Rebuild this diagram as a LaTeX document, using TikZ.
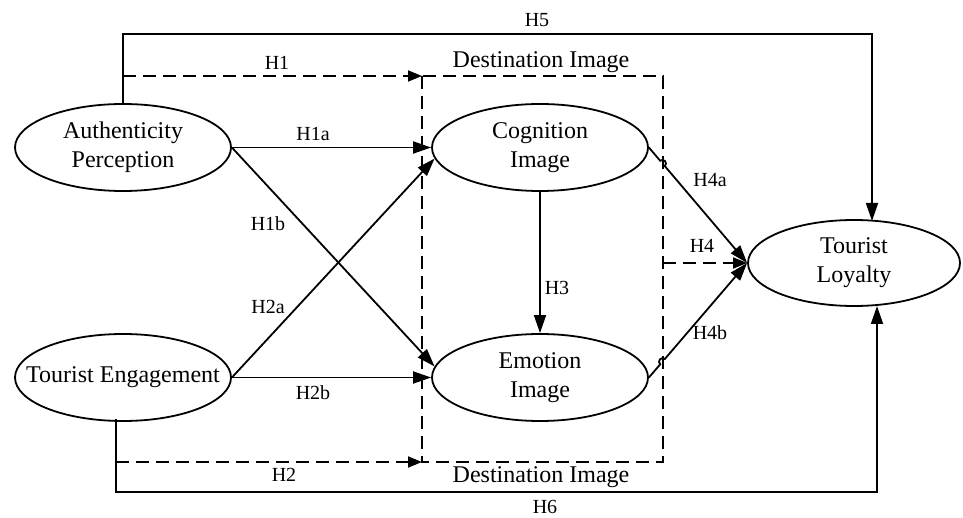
\documentclass[tikz,border=0pt]{standalone}
\usepackage{fontspec}
\setmainfont{Liberation Serif}
\usetikzlibrary{shapes.geometric,arrows.meta,calc}
\tikzset{
  ell/.style={ellipse,draw,line width=1.8pt,minimum width=216pt,minimum height=87pt,inner sep=0pt},
  etext/.style={label={[align=center,font=\fontsize{24}{29}\selectfont]center:#1}},
  conn/.style={line width=1.8pt,-{Triangle[length=18pt,width=12pt]}},
  dconn/.style={line width=1.8pt,dash pattern=on 13pt off 7pt,-{Triangle[length=14pt,width=11pt]}},
  lbl/.style={font=\fontsize{20}{24}\selectfont,inner sep=1pt},
  big/.style={font=\fontsize{24}{28}\selectfont,inner sep=1pt},
}
\begin{document}
\begin{tikzpicture}[x=1pt,y=-1pt]
\useasboundingbox (0,0) rectangle (963,518);
% dashed box
\draw[line width=1.8pt,dash pattern=on 13pt off 7pt] (422,76) rectangle (663,462);
\node[big] (dt) at (541,62) {Destination Image};
\node[big] (db) at (541,477) {Destination Image};
% nodes
\node[ell,etext={Authenticity\\Perception}] (auth) at (123,147.5) {};
\node[ell,etext={Tourist Engagement}] (te) at (123,377.5) {};
\node[ell,etext={Cognition\\Image}] (cog) at (540,147.5) {};
\node[ell,etext={Emotion\\Image}] (emo) at (540,377.5) {};
\node[ell,minimum width=212pt,minimum height=86pt,etext={Tourist\\Loyalty}] (loy) at (854,263) {};
% coordinates
\coordinate (h5a) at (123,34);
\coordinate (h5b) at (872,34);
\coordinate (h5c) at (872,221);
\coordinate (h1a) at (123,76);
\coordinate (h1b) at (422,76);
\coordinate (h2a) at (116,462);
\coordinate (h2b) at (422,462);
\coordinate (h6s) at (116,419);
\coordinate (h6a) at (116,492);
\coordinate (h6b) at (877,492);
\coordinate (h6c) at (877,306);
\coordinate (h4s) at (663,263);
% H5
\draw[conn] (auth.north) -- (h5a) -- (h5b) -- (h5c);
\node[lbl] at (537,20) {H5};
% H1
\draw[dconn] (h1a) -- (h1b);
\node[lbl] at (277,63) {H1};
% H1a
\draw[conn] (auth.east) -- (cog.west);
\node[lbl] at (313,134) {H1a};
% H1b
\draw[conn] (auth.east) -- (emo.174);
\node[lbl] at (268,224) {H1b};
% H2a
\draw[conn] (te.east) -- (cog.186);
\node[lbl] at (268,307) {H2a};
% H2b
\draw[conn] (te.east) -- (emo.west);
\node[lbl] at (313,393) {H2b};
% H2
\draw[dconn] (h2a) -- (h2b);
\node[lbl] at (284,475) {H2};
% H6
\draw[conn] (h6s) -- (h6a) -- (h6b) -- (h6c);
\node[lbl] at (545,507) {H6};
% H3
\draw[conn] (cog.south) -- (emo.north);
\node[lbl] at (557,288) {H3};
% H4
\draw[dconn] (h4s) -- (loy.west);
\node[lbl] at (702,246) {H4};
% H4a with hop
\draw[conn] (cog.east) -- ($(cog.east)!0.115!(loy.west)$) arc[start angle=-131, end angle=49, radius=3.5] -- (loy.west);
\node[lbl] at (710,180) {H4a};
% H4b with hop
\draw[conn] (emo.east) -- ($(emo.east)!0.115!(loy.west)$) arc[start angle=131, end angle=311, radius=3.5] -- (loy.west);
\node[lbl] at (710,333) {H4b};
\end{tikzpicture}
\end{document}
